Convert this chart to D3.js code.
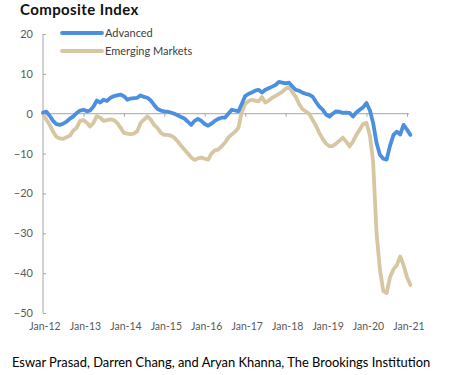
<!DOCTYPE html>
<html>
<head>
<meta charset="utf-8">
<script src="https://cdn.jsdelivr.net/npm/d3@7"></script>
<style>
  body { margin: 0; background: #fff; }
  svg { display: block; }
</style>
</head>
<body>
<svg id="chart" width="456" height="375"></svg>
<script>
// monthly values, Jan-12 .. Feb-21
var startMonth = new Date(2012, 0, 1);
var advanced = [
  0.3, 0.5, -0.5, -1.8, -2.6, -2.8, -2.5, -2.0, -1.2, -0.7, 0.2, 0.8,
  1.0, 0.6, 0.8, 1.8, 3.3, 2.8, 3.5, 3.2, 4.0, 4.4, 4.6, 4.8,
  4.4, 3.5, 3.8, 3.9, 4.0, 4.6, 4.2, 4.0, 3.3, 2.2, 1.2, 0.8,
  0.6, 0.5, 0.3, 0.0, -0.4, -0.8, -1.2, -2.0, -2.8, -1.8, -1.3, -1.8,
  -2.6, -3.0, -2.5, -1.8, -1.3, -1.0, -1.0, 0.0, 1.0, 0.8, 0.6, 2.5,
  4.5, 5.0, 5.3, 5.8, 6.0, 5.3, 6.0, 6.4, 6.8, 7.2, 8.0, 7.8,
  7.6, 7.8, 6.9, 6.0, 5.8, 5.3, 5.0, 4.8, 4.3, 3.0, 1.8, 1.0,
  -0.2, -0.7, 0.0, 0.6, 0.5, 0.2, 0.3, 0.2, -0.7, 0.3, 1.0, 1.6,
  2.7, 0.8, -2.3, -7.3, -10.3, -11.3, -11.5, -8.0, -5.3, -4.5, -5.2, -2.8,
  -4.0, -5.3
];
var emerging = [
  0.0, -1.5, -2.8, -4.5, -5.8, -6.2, -6.3, -5.9, -5.5, -4.2, -3.5, -1.8,
  -1.6, -2.3, -3.2, -2.3, -0.6, -1.0, -1.8, -1.6, -1.4, -1.6, -2.3, -3.5,
  -4.8, -5.0, -5.1, -5.0, -4.4, -2.3, -1.5, -0.7, -1.5, -2.8, -3.6, -4.8,
  -5.3, -5.3, -5.5, -6.0, -6.9, -8.0, -9.0, -10.0, -11.0, -11.6, -11.2, -11.0,
  -11.3, -11.5, -10.0, -9.2, -9.0, -8.2, -7.3, -6.0, -5.2, -4.5, -3.5, 0.5,
  2.5, 3.2, 3.5, 3.3, 3.1, 4.2, 2.8, 3.3, 4.0, 4.5, 5.0, 5.5,
  6.3, 6.7, 5.5, 4.3, 2.5, 1.2, 0.6, 0.0, -1.5, -3.0, -4.8, -6.3,
  -7.5, -8.2, -8.1, -7.5, -6.8, -6.0, -7.0, -8.2, -7.0, -5.3, -4.0, -2.6,
  -2.3, -5.5, -12, -30, -39, -44.5, -45, -41, -39, -38, -35.8, -38,
  -41, -43
];
var seriesNames = ["Advanced", "Emerging Markets"];
var seriesColors = ["#4a8fe0", "#d6c6a2"];
var yTicks = [20, 10, 0, -10, -20, -30, -40, -50];
var xTickYears = [2012, 2013, 2014, 2015, 2016, 2017, 2018, 2019, 2020, 2021];

var svg = d3.select("#chart");

var x = d3.scaleTime()
    .domain([new Date(2012, 0, 1), new Date(2021, 0, 1)])
    .range([43, 407]);
var y = d3.scaleLinear()
    .domain([-50, 20])
    .range([313, 34]);

function toPoints(vals) {
    return vals.map(function (v, i) {
        return { date: d3.timeMonth.offset(startMonth, i), value: v };
    });
}

// title
svg.append("text")
    .attr("x", 20)
    .attr("y", 15)
    .attr("font-family", "Lato, sans-serif")
    .attr("font-weight", "bold")
    .attr("font-size", 15)
    .attr("letter-spacing", 0.4)
    .attr("fill", "#111")
    .text("Composite Index");

// y axis
var yAxis = d3.axisRight(y)
    .tickValues(yTicks)
    .tickSize(3)
    .tickFormat(d3.format("d"));
var gy = svg.append("g")
    .attr("transform", "translate(43,0)")
    .call(yAxis);
gy.select(".domain").attr("stroke", "#a6a6a6").attr("d", "M0,34V313");
gy.selectAll(".tick line").attr("stroke", "#a6a6a6");
gy.selectAll(".tick text")
    .attr("x", -10)
    .attr("text-anchor", "end")
    .attr("font-family", "Lato, sans-serif")
    .attr("font-size", 11)
    .attr("fill", "#595959");

// x axis on the zero line
var xAxis = d3.axisBottom(x)
    .tickValues(xTickYears.map(function (yr) { return new Date(yr, 0, 1); }))
    .tickSize(3)
    .tickFormat("");
var gx = svg.append("g")
    .attr("transform", "translate(0," + y(0) + ")")
    .call(xAxis);
gx.select(".domain").attr("stroke", "#a6a6a6").attr("d", "M43,0H409");
gx.selectAll(".tick line").attr("stroke", "#a6a6a6");

// x tick labels at the bottom
svg.append("g").selectAll("text")
    .data(xTickYears)
    .enter().append("text")
    .attr("x", function (yr) { return x(new Date(yr, 0, 1)) + 2; })
    .attr("y", 330)
    .attr("text-anchor", "middle")
    .attr("font-family", "Lato, sans-serif")
    .attr("font-size", 10.5)
    .attr("fill", "#595959")
    .text(function (yr) { return d3.timeFormat("%b-%y")(new Date(yr, 0, 1)); });

// lines
var line = d3.line()
    .x(function (d) { return x(d.date); })
    .y(function (d) { return y(d.value); });

[emerging, advanced].forEach(function (vals) {
    var idx = vals === advanced ? 0 : 1;
    svg.append("path")
        .datum(toPoints(vals))
        .attr("fill", "none")
        .attr("stroke", seriesColors[idx])
        .attr("stroke-width", 3.8)
        .attr("stroke-linejoin", "round")
        .attr("stroke-linecap", "round")
        .attr("d", line);
});

// legend
var legend = svg.append("g").selectAll("g")
    .data(seriesNames)
    .enter().append("g")
    .attr("transform", function (d, i) { return "translate(62," + (33 + i * 18) + ")"; });
legend.append("line")
    .attr("x1", 0).attr("x2", 40)
    .attr("stroke", function (d, i) { return seriesColors[i]; })
    .attr("stroke-width", 3.8)
    .attr("stroke-linecap", "round");
legend.append("text")
    .attr("x", 43)
    .attr("y", 4)
    .attr("font-family", "Lato, sans-serif")
    .attr("font-size", 11)
    .attr("fill", "#404040")
    .text(function (d) { return d; });

// source line
svg.append("text")
    .attr("x", 12)
    .attr("y", 367)
    .attr("font-family", "Lato, sans-serif")
    .attr("font-size", 12.9)
    .attr("fill", "#000")
    .text("Eswar Prasad, Darren Chang, and Aryan Khanna, The Brookings Institution");
</script>
</body>
</html>
